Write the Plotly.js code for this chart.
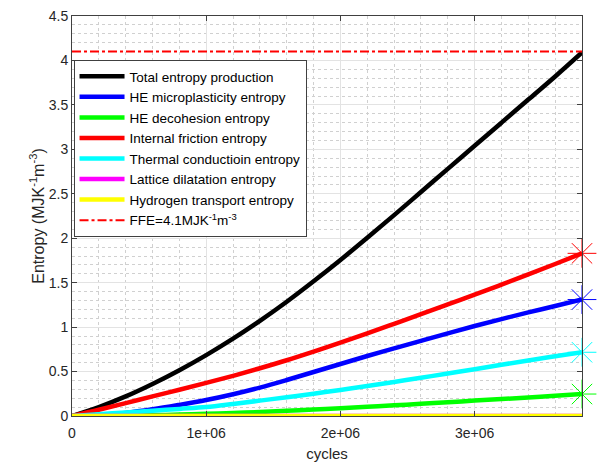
<!DOCTYPE html>
<html>
<head>
<meta charset="utf-8">
<script src="https://cdn.plot.ly/plotly-3.0.1.min.js"></script>
<style>html,body{margin:0;padding:0;background:#fff;}#chart{width:597px;height:467px;}</style>
</head>
<body>
<div id="chart"></div>
<script>
// cycles (x values)
const cycles = [0, 2e5, 4e5, 6e5, 8e5, 1e6, 1.2e6, 1.4e6, 1.6e6, 1.8e6, 2e6, 2.2e6, 2.4e6, 2.6e6, 2.8e6, 3e6, 3.2e6, 3.4e6, 3.6e6, 3.8e6];
const totalEntropy   = [0, 0.10, 0.22, 0.36, 0.515, 0.685, 0.87, 1.07, 1.285, 1.515, 1.755, 2.005, 2.26, 2.52, 2.78, 3.04, 3.30, 3.56, 3.82, 4.09];
const heMicro        = [0, 0.01, 0.035, 0.075, 0.125, 0.18, 0.245, 0.32, 0.405, 0.495, 0.585, 0.675, 0.76, 0.845, 0.93, 1.012, 1.09, 1.165, 1.238, 1.31];
const heDecohesion   = [0, 0.002, 0.005, 0.01, 0.016, 0.024, 0.034, 0.045, 0.058, 0.072, 0.088, 0.104, 0.12, 0.137, 0.155, 0.173, 0.19, 0.208, 0.227, 0.247];
const internalFric   = [0, 0.07, 0.145, 0.22, 0.295, 0.372, 0.452, 0.537, 0.627, 0.724, 0.825, 0.93, 1.037, 1.145, 1.255, 1.365, 1.478, 1.593, 1.71, 1.83];
const thermalCond    = [0, 0.02, 0.04, 0.06, 0.08, 0.10, 0.135, 0.173, 0.211, 0.251, 0.293, 0.337, 0.383, 0.43, 0.478, 0.527, 0.577, 0.625, 0.672, 0.717];
const latticeDil     = [0, 0, 0, 0, 0, 0, 0, 0, 0, 0, 0, 0, 0, 0, 0, 0, 0, 0, 0, 0];
const hydrogenTrans  = [0, 0, 0, 0, 0, 0, 0, 0, 0, 0, 0, 0, 0, 0, 0, 0, 0, 0, 0, 0];
const ffeValue = 4.1;
const xTickVals = [0, 1e6, 2e6, 3e6];
const xTickText = ['0', '1e+06', '2e+06', '3e+06'];

const seriesNames = ['Total entropy production', 'HE microplasticity entropy', 'HE decohesion entropy',
  'Internal friction entropy', 'Thermal conductioin entropy', 'Lattice dilatation entropy', 'Hydrogen transport entropy'];
const seriesData = [totalEntropy, heMicro, heDecohesion, internalFric, thermalCond, latticeDil, hydrogenTrans];
const seriesColors = ['#000000', '#0000ff', '#00ff00', '#ff0000', '#00ffff', '#ff00ff', '#ffff00'];
const markerSeries = [1, 2, 3, 4]; // indices with end asterisks

const traces = [];
seriesData.forEach((d, i) => {
  traces.push({
    x: cycles, y: d, type: 'scatter', mode: 'lines', name: seriesNames[i],
    line: {color: seriesColors[i], width: 4.5, shape: 'spline', smoothing: 1}
  });
});
const last = cycles.length - 1;
markerSeries.forEach(i => {
  traces.push({
    x: [cycles[last]], y: [seriesData[i][last]], type: 'scatter', mode: 'markers', showlegend: false,
    cliponaxis: false,
    marker: {symbol: 'asterisk-open', size: 24, color: seriesColors[i], line: {color: seriesColors[i], width: 1}}
  });
});
traces.push({
  x: [cycles[0], cycles[last]], y: [ffeValue, ffeValue], type: 'scatter', mode: 'lines',
  name: 'FFE=4.1MJK<sup>-1</sup>m<sup>-3</sup>',
  line: {color: '#ff0000', width: 2, dash: 'dashdot'}
});

const axisCommon = {
  showline: true, linecolor: '#404040', linewidth: 1, mirror: 'ticks',
  ticks: 'inside', ticklen: 5, tickcolor: '#404040',
  showgrid: true, gridcolor: '#e3e3e3', gridwidth: 1, zeroline: false,
  tickfont: {family: 'Liberation Sans, Arial, sans-serif', size: 14, color: '#262626'}
};

const layout = {
  width: 597, height: 467,
  margin: {l: 72, r: 15, t: 16, b: 51},
  paper_bgcolor: '#ffffff', plot_bgcolor: '#ffffff',
  showlegend: true,
  xaxis: Object.assign({}, axisCommon, {
    range: [0, 3.8e6], tickvals: xTickVals, ticktext: xTickText, ticklabelstandoff: 4,
    minor: {dtick: 2e5, showgrid: true, gridcolor: '#d0d0d0', griddash: 'dot', ticks: ''},
    title: {text: 'cycles', font: {family: 'Liberation Sans, Arial, sans-serif', size: 15, color: '#262626'}, standoff: 8}
  }),
  yaxis: Object.assign({}, axisCommon, {
    range: [0, 4.5], dtick: 0.5, tick0: 0,
    minor: {dtick: 0.1, showgrid: true, gridcolor: '#d0d0d0', griddash: 'dot', ticks: ''},
    title: {text: 'Entropy (MJK<sup>-1</sup>m<sup>-3</sup>)', font: {family: 'Liberation Sans, Arial, sans-serif', size: 16, color: '#262626'}, standoff: 0}
  }),
  legend: {
    x: 0.003, y: 0.89, xanchor: 'left', yanchor: 'top',
    bgcolor: '#ffffff', bordercolor: '#404040', borderwidth: 1,
    font: {family: 'Liberation Sans, Arial, sans-serif', size: 13.5, color: '#000000'},
    itemwidth: 45, tracegroupgap: 0
  }
};

Plotly.newPlot('chart', traces, layout, {staticPlot: true, displayModeBar: false});
</script>
</body>
</html>
